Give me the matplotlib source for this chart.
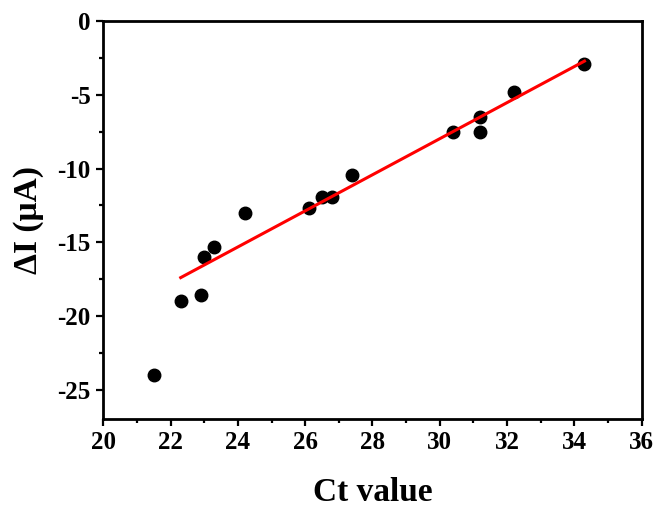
import matplotlib
matplotlib.use("Agg")
import matplotlib.pyplot as plt
from matplotlib.ticker import MultipleLocator

ct_values = [21.5, 22.3, 22.9, 23.0, 23.3, 24.2, 26.1, 26.5, 26.8, 27.4, 30.4, 31.2, 31.2, 32.2, 34.3]
delta_i = [-24.0, -19.0, -18.6, -16.0, -15.3, -13.0, -12.7, -11.9, -11.9, -10.4, -7.5, -6.5, -7.5, -4.8, -2.9]
fit_x = [22.3, 34.3]
fit_y = [-17.4, -2.7]
x_ticks = [20, 22, 24, 26, 28, 30, 32, 34, 36]
y_ticks = [0, -5, -10, -15, -20, -25]

plt.rcParams['font.family'] = ['Liberation Serif', 'DejaVu Serif']
plt.rcParams['font.weight'] = 'bold'
plt.rcParams['axes.unicode_minus'] = False

fig = plt.figure(figsize=(6.59, 5.08), dpi=100)
ax = fig.add_axes([0.1568, 0.1752, 0.8169, 0.7828])

ax.plot(ct_values, delta_i, 'o', color='black', markersize=9, zorder=3)
ax.plot(fit_x, fit_y, '-', color='#ff0000', linewidth=2.2, zorder=4)

ax.set_xlim(20, 36)
ax.set_ylim(-27, 0)
ax.set_xticks(x_ticks)
ax.set_yticks(y_ticks)
ax.xaxis.set_minor_locator(MultipleLocator(1))
ax.yaxis.set_minor_locator(MultipleLocator(2.5))

for s in ax.spines.values():
    s.set_linewidth(2.0)
ax.tick_params(which='major', direction='out', length=5, width=1.6, labelsize=18, pad=4)
ax.tick_params(which='minor', direction='out', length=3, width=1.6)
for lab in ax.get_xticklabels() + ax.get_yticklabels():
    lab.set_fontweight('bold')

ax.set_xlabel('Ct value', fontsize=24, fontweight='bold', labelpad=16)
ax.set_ylabel('ΔI (μA)', fontsize=24, fontweight='bold', labelpad=10)

fig.savefig('out.png', dpi=100)
